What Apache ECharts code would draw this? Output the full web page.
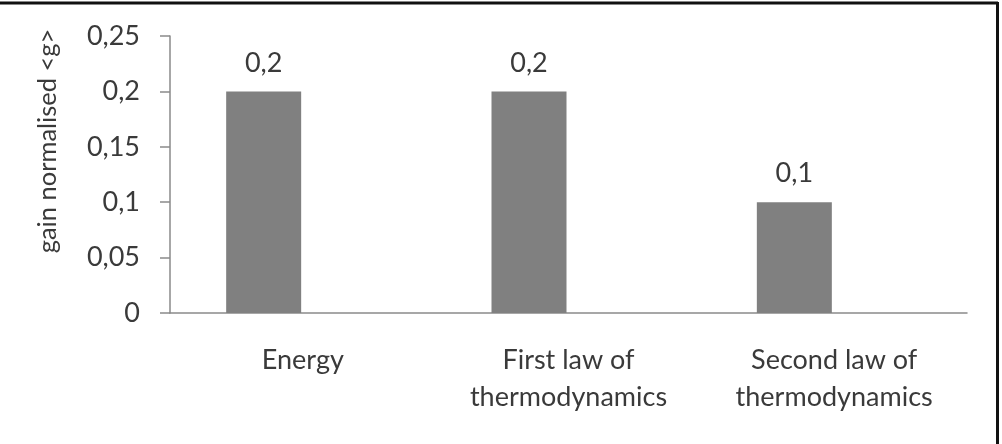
<!DOCTYPE html>
<html>
<head>
    <meta charset="utf-8">
    <title>gain normalised</title>
    <script src="https://cdn.jsdelivr.net/npm/echarts@6/dist/echarts.min.js"></script>
    <style>
        html, body { margin: 0; padding: 0; background: #fff; }
    </style>
</head>
<body>
    <div id="main" style="width: 1002px;height:444px;"></div>
    <script type="text/javascript">
        var categories = ['Energy', 'First law of\nthermodynamics', 'Second law of\nthermodynamics'];
        var gains = [0.2, 0.2, 0.1];
        var yTicks = [0, 0.05, 0.1, 0.15, 0.2, 0.25];

        // comma as decimal separator
        function fmt(v) {
            return String(Number(v.toFixed(2))).replace('.', ',');
        }

        var txt = '#3a3a3a';
        var font = 'Lato, "Open Sans", sans-serif';
        var myChart = echarts.init(document.getElementById('main'));

        var option = {
            backgroundColor: '#fff',
            animation: false,
            grid: [
                // visible axes
                {left: 170, right: 35, top: 36, bottom: 131},
                // bars sit a little left of the label slots
                {left: 131, right: 75, top: 36, bottom: 131}
            ],
            xAxis: [
                {
                    gridIndex: 0,
                    type: 'category',
                    data: categories,
                    axisLine: {lineStyle: {color: '#8a8a8a', width: 1.5}},
                    axisTick: {show: false},
                    axisLabel: {
                        color: txt, fontSize: 27, fontFamily: font,
                        margin: 29, lineHeight: 37
                    }
                },
                {
                    gridIndex: 1,
                    type: 'category',
                    data: categories,
                    show: false
                }
            ],
            yAxis: [
                {
                    gridIndex: 0,
                    type: 'value',
                    min: yTicks[0],
                    max: yTicks[yTicks.length - 1],
                    interval: 0.05,
                    splitLine: {show: false},
                    axisLine: {show: true, lineStyle: {color: '#8a8a8a', width: 1.5}},
                    axisTick: {show: true, length: 10, lineStyle: {color: '#8a8a8a', width: 1.5}},
                    axisLabel: {
                        color: txt, fontSize: 27, fontFamily: font,
                        margin: 30, formatter: fmt
                    }
                },
                {
                    gridIndex: 1,
                    type: 'value',
                    min: yTicks[0],
                    max: yTicks[yTicks.length - 1],
                    show: false
                }
            ],
            series: [{
                type: 'bar',
                xAxisIndex: 1,
                yAxisIndex: 1,
                data: gains,
                barWidth: 75,
                itemStyle: {color: '#808080'},
                label: {
                    show: true,
                    position: 'top',
                    distance: 15,
                    color: txt,
                    fontSize: 27,
                    fontFamily: font,
                    formatter: function (p) { return fmt(p.value); }
                }
            }],
            graphic: [
                {
                    type: 'text',
                    x: 48, y: 141,
                    rotation: Math.PI / 2,
                    style: {
                        text: 'gain normalised <g>',
                        fill: txt,
                        font: '25.5px ' + font,
                        align: 'center',
                        verticalAlign: 'middle'
                    }
                },
                {
                    type: 'line',
                    shape: {x1: 0, y1: 3, x2: 998, y2: 3},
                    style: {stroke: '#111', lineWidth: 3}
                },
                {
                    type: 'line',
                    shape: {x1: 997.5, y1: 2, x2: 997.5, y2: 444},
                    style: {stroke: '#111', lineWidth: 3}
                }
            ]
        };
        myChart.setOption(option);
    </script>
</body>
</html>
